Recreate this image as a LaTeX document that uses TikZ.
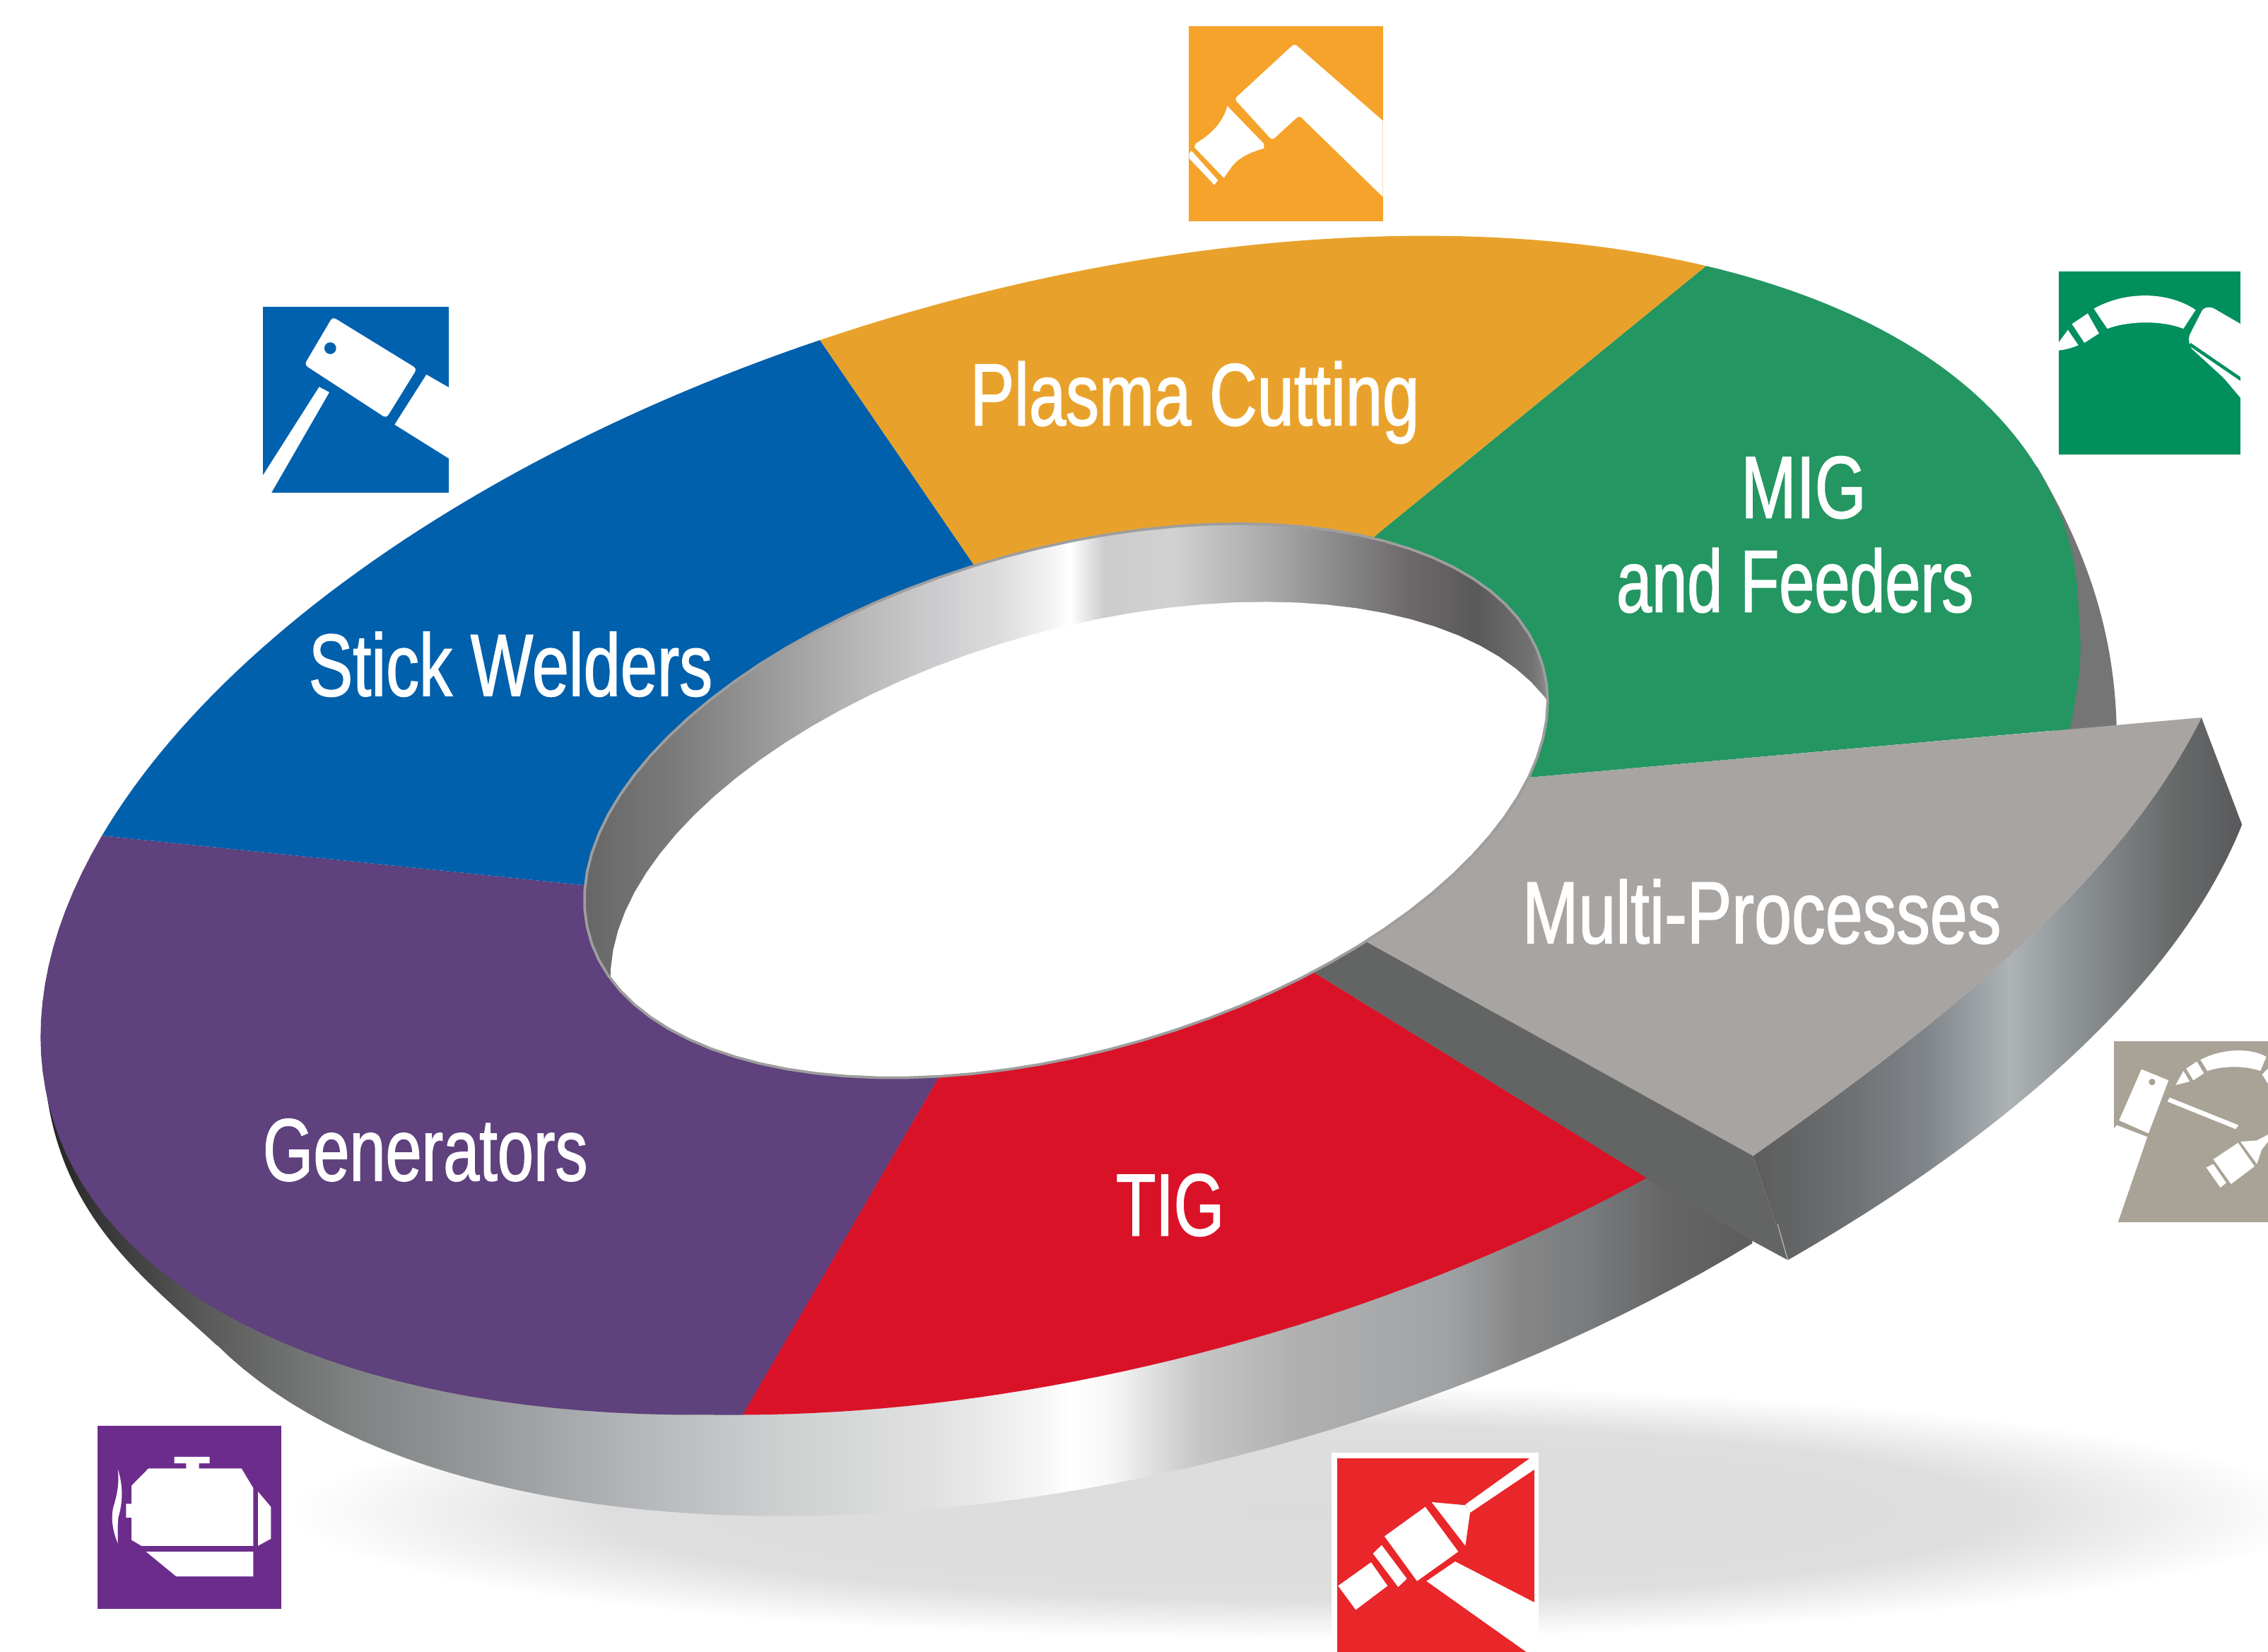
\documentclass[tikz,border=0pt]{standalone}
\usepackage{fontspec}
\setmainfont[FakeStretch=0.75,FakeBold=1.2]{Liberation Sans}
\newfontfamily\narrowa[FakeStretch=0.72,FakeBold=1.2]{Liberation Sans}
\newfontfamily\narrowb[FakeStretch=0.735,FakeBold=1.2]{Liberation Sans}
\newfontfamily\widera[FakeStretch=0.762,FakeBold=1.2]{Liberation Sans}
\definecolor{cblue}{HTML}{0060AC}
\definecolor{cgold}{HTML}{E8A22C}
\definecolor{cgreen}{HTML}{239661}
\definecolor{cpurple}{HTML}{5E417D}
\definecolor{cred}{HTML}{DA1228}
\definecolor{cgrey}{HTML}{A7A4A2}
\definecolor{ccside}{HTML}{636464}
\definecolor{iorange}{HTML}{F5A32B}
\definecolor{igreen}{HTML}{008F5D}
\definecolor{iblue}{HTML}{0061AF}
\definecolor{itaupe}{HTML}{A9A296}
\definecolor{ipurple}{HTML}{6C2C8C}
\definecolor{ired}{HTML}{E9262A}
\pgfdeclarehorizontalshading{wallmetal}{100bp}{rgb(0bp)=(.13,.13,.13);rgb(25bp)=(.13,.13,.13);rgb(26.4bp)=(.2,.2,.2);rgb(28.1bp)=(.27,.27,.27);rgb(29.8bp)=(.35,.35,.35);rgb(34.1bp)=(.5,.51,.51);rgb(38.3bp)=(.6,.61,.62);rgb(42.6bp)=(.71,.72,.73);rgb(46.8bp)=(.81,.82,.82);rgb(51.1bp)=(.88,.88,.88);rgb(54.1bp)=(.96,.96,.96);rgb(55.1bp)=(1,1,1);rgb(56.2bp)=(.97,.97,.97);rgb(58.7bp)=(.78,.78,.78);rgb(61.7bp)=(.69,.69,.69);rgb(66bp)=(.63,.64,.65);rgb(68.1bp)=(.53,.53,.53);rgb(70.2bp)=(.47,.48,.49);rgb(72.4bp)=(.4,.4,.4);rgb(75bp)=(.36,.36,.36);rgb(100bp)=(.36,.36,.36)}
\pgfdeclarehorizontalshading{holemetal}{100bp}{rgb(0bp)=(.4,.4,.4);rgb(25bp)=(.4,.4,.4);rgb(29.2bp)=(.47,.47,.47);rgb(34.5bp)=(.6,.6,.6);rgb(39.7bp)=(.73,.73,.73);rgb(43.2bp)=(.8,.8,.81);rgb(46.8bp)=(.87,.87,.87);rgb(49.1bp)=(.95,.95,.95);rgb(50.2bp)=(1,1,1);rgb(52bp)=(.8,.8,.8);rgb(55.5bp)=(.82,.82,.82);rgb(60.7bp)=(.66,.66,.66);rgb(64.3bp)=(.53,.53,.53);rgb(67.8bp)=(.43,.41,.42);rgb(71.3bp)=(.35,.35,.35);rgb(74.2bp)=(.45,.45,.45);rgb(75bp)=(.55,.55,.55);rgb(100bp)=(.55,.55,.55)}
\pgfdeclarehorizontalshading{wedgemetal}{100bp}{rgb(0bp)=(.36,.36,.36);rgb(25bp)=(.36,.36,.36);rgb(33.6bp)=(.42,.43,.44);rgb(42.5bp)=(.5,.52,.54);rgb(51.3bp)=(.68,.7,.71);rgb(58.7bp)=(.54,.56,.57);rgb(67.6bp)=(.41,.42,.42);rgb(75bp)=(.35,.35,.36);rgb(100bp)=(.35,.35,.36)}
\pgfdeclareradialshading{floorshadow}{\pgfpoint{0bp}{0bp}}{rgb(0bp)=(.86,.86,.86);rgb(17bp)=(.87,.87,.87);rgb(25bp)=(1,1,1);rgb(50bp)=(1,1,1)}
\newcommand\ringouter[2]{plot[domain=#1:#2,samples=50,variable=\t]({732.5+704.5*cos(\t)},{570.5-407.5*cos(\t-69)})}
\newcommand\ringred[2]{plot[domain=#1:#2,samples=40,variable=\t]({762.5+704.5*cos(\t)},{570.5-407.5*cos(\t-69)})}
\newcommand\ringinner[2]{plot[domain=#1:#2,samples=90,variable=\t]({737+333*cos(\t)},{553.5-191.5*cos(\t-69)})}
\newcommand\ringhole[2]{plot[domain=#1:#2,samples=90,variable=\t]({755+333*cos(\t)},{607.5-191.5*cos(\t-69)})}
\tikzset{
  facefill/.style={fill=#1,draw=none},
  wlabel/.style={text=white,anchor=base,inner sep=0pt,font=\fontsize{30}{30}\selectfont},
  iconbg/.style={fill=#1,draw=none},
  iconwhite/.style={fill=white,draw=none},
}
\begin{document}
\begin{tikzpicture}[x=0.4912pt,y=-0.4912pt]
\useasboundingbox (0,0) rectangle (1568,1141.9);
\fill[white] (0,0) rectangle (1568,1141.9);
% floor shadow
\shade[shading=floorshadow] (900,1045) ellipse [x radius=700,y radius=88];
% top-right piece of outer wall
\fill[fill=black!54] (1408,322) .. controls (1445,385) and (1462,440) .. (1463.4,505) -- (1420,510) -- (1420,400) -- cycle;
% outer wall
\begin{scope}
\clip (31,745) .. controls (40,840) and (98,882) .. (150,930) -- plot[domain=204.2:306.5,samples=60,variable=\t]({792.5+704.5*cos(\t)},{640.5-407.5*cos(\t-69)}) -- (1212,700) -- (300,700) -- cycle;
\shade[shading=wallmetal] (28,680) rectangle (1212,1060);
\end{scope}
% coloured faces
\fill[facefill=cpurple] \ringouter{160}{249.5} -- (513.6,978) -- (650,743) -- (737,553) -- (405,612) -- cycle;
\fill[facefill=cblue] \ringouter{160}{103.6} -- (673,390) -- (737,553) -- (405,612) -- cycle;
\fill[facefill=cgold] \ringouter{103.6}{50.6} -- (955,367) -- (737,553) -- (673,390) -- cycle;
\fill[facefill=cgreen] \ringouter{50.6}{0} .. controls (1440,450) and (1438,470) .. (1431,504) -- (1062,537) -- (737,553) -- (955,367) -- cycle;
\fill[facefill=cred] \ringred{249.3}{302.7} -- (1143,817) -- (905,670) -- (737,553) -- (650,743) -- cycle;
% wedge wall
\begin{scope}
\clip (1522,496) -- (1550,570) .. controls (1500,695) and (1360,800) .. (1236,871) -- (1212,799) .. controls (1345,705) and (1465,610) .. (1522,496) -- cycle;
\shade[shading=wedgemetal] (1212,480) rectangle (1550,880);
\end{scope}
% wedge side
\fill[facefill=ccside] (905,670) -- (943,650) -- (1212,799) -- (1236,871) -- (1212,858) -- (1143,817) -- cycle;
\draw[white,opacity=.5,line width=.3pt] (1229,846) -- (1236,871);
% wedge face
\fill[facefill=cgrey] (1062,537) -- (1522,496) .. controls (1465,610) and (1345,705) .. (1212,799) -- (943,650) -- (737,553) -- cycle;
% hole: shaded inner wall, then the opening seen through it
\begin{scope}
\clip \ringinner{0}{360} -- cycle;
\shade[shading=holemetal] (404,350) rectangle (1070,760);
\fill[white] \ringhole{0}{360} -- cycle;
\end{scope}
\draw[black!38,line width=.9pt] \ringinner{0}{360} -- cycle;
% labels
\node[wlabel] (plasma) at (826,294) {Plasma Cutting};
\node[wlabel] (mig) at (1247,358) {MIG};
\node[wlabel] (feeders) at (1241,423) {\narrowa and Feeders};
\node[wlabel] (stick) at (353,481) {Stick Welders};
\node[wlabel] (multi) at (1218,652) {\widera Multi-Processes};
\node[wlabel] (gens) at (294,816) {\narrowb Generators};
\node[wlabel] (tig) at (809,854) {\narrowb TIG};
% orange icon
\begin{scope}[shift={(801.3,9.77)},scale=.1629]
\fill[iconbg=iorange] (125,52) rectangle (950,880);
\begin{scope}
\clip (125,52) rectangle (950,880);
\fill[iconwhite,rounded corners=1pt] (320,360) -- (575,125) -- (970,470) -- (970,795) -- (595,430) -- (480,535) -- cycle;
\fill[iconwhite] (290,390) .. controls (265,480) and (200,520) .. (155,550) -- (150,565) -- (275,695) -- (300,660) .. controls (330,610) and (390,585) .. (445,570) -- (445,550) -- cycle;
\fill[iconwhite] (128,590) -- (138,580) -- (250,705) -- (235,725) -- (128,612) -- cycle;
\end{scope}
\end{scope}
% green icon
\begin{scope}[shift={(1407.2,175.9)},scale=.1629]
\fill[iconbg=igreen] (98,72) rectangle (870,848);
\begin{scope}
\clip (98,72) rectangle (870,848);
\fill[iconwhite] (248,230) .. controls (380,155) and (560,155) .. (680,235) -- (628,315) .. controls (540,280) and (400,280) .. (305,315) -- cycle;
\fill[iconwhite] (155,295) -- (222,250) -- (270,335) -- (208,375) -- cycle;
\fill[iconwhite] (90,385) -- (138,320) -- (182,385) .. controls (150,398) and (125,405) .. (90,408) -- cycle;
\fill[iconwhite,rounded corners=1pt] (650,350) -- (712,228) -- (745,222) -- (880,300) -- (880,620) -- (800,525) -- (655,392) -- cycle;
\draw[igreen,line width=1.1pt] (655,381) -- (880,535);
\end{scope}
\end{scope}
% blue icon
\begin{scope}[shift={(166.1,200.3)},scale=.1629]
\fill[iconbg=iblue] (95,72) rectangle (885,860);
\begin{scope}
\clip (95,72) rectangle (885,860);
\fill[iconwhite,rounded corners=1.2pt] (392,115) -- (750,335) -- (620,545) -- (272,318) -- cycle;
\fill[iblue] (382,248) circle [radius=25];
\fill[iconwhite] (790,360) -- (895,420) -- (895,722) -- (655,572) -- cycle;
\fill[iconwhite] (335,412) -- (378,435) -- (130,865) -- (85,865) -- (85,805) -- cycle;
\end{scope}
\end{scope}
% taupe icon
\begin{scope}[shift={(1446.3,703.6)},scale=.1629]
\fill[iconbg=itaupe] (92,98) rectangle (760,868);
\fill[iconwhite] (210,218) -- (325,265) -- (240,490) -- (115,435) -- cycle;
\fill[itaupe] (255,272) circle [radius=14];
\fill[iconwhite] (105,455) -- (235,505) -- (110,868) -- (85,868) -- (85,480) -- cycle;
\fill[iconwhite] (330,338) -- (622,455) -- (610,472) -- (320,355) -- cycle;
\fill[iconwhite] (460,178) .. controls (550,130) and (670,125) .. (740,165) -- (715,225) .. controls (640,200) and (550,205) .. (490,225) -- cycle;
\fill[iconwhite] (400,215) -- (445,185) -- (475,235) -- (430,265) -- cycle;
\fill[iconwhite] (388,225) -- (415,270) -- (355,285) -- cycle;
\fill[iconwhite] (722,240) -- (747,215) -- (747,280) -- cycle;
\fill[iconwhite] (515,600) -- (620,530) -- (690,630) -- (590,705) -- cycle;
\fill[iconwhite] (485,635) -- (515,620) -- (570,700) -- (545,720) -- cycle;
\fill[iconwhite] (630,525) -- (700,520) -- (747,495) -- (747,525) -- (720,560) -- (700,620) -- cycle;
\end{scope}
% purple icon
\begin{scope}[shift={(53.75,972.4)},scale=.1629]
\fill[iconbg=ipurple] (85,80) rectangle (865,858);
\fill[iconwhite] (410,212) -- (560,212) -- (560,240) -- (515,240) -- (515,262) -- (695,262) -- (745,345) -- (745,590) -- (270,590) -- (228,565) -- (228,470) -- (205,470) -- (205,412) -- (228,412) -- (228,335) -- (300,262) -- (460,262) -- (460,240) -- (410,240) -- cycle;
\fill[iconwhite] (290,615) -- (745,615) -- (745,720) -- (418,720) -- cycle;
\fill[iconwhite] (765,360) -- (820,425) -- (820,560) -- (765,590) -- cycle;
\fill[iconwhite] (170,265) .. controls (195,340) and (190,410) .. (172,470) .. controls (168,510) and (170,550) .. (170,580) .. controls (150,530) and (140,480) .. (150,430) .. controls (165,380) and (178,330) .. (170,265) -- cycle;
\end{scope}
% red icon
\begin{scope}[shift={(908.8,991.9)},scale=.1629]
\fill[white] (72,75) rectangle (950,921);
\fill[iconbg=ired] (95,98) rectangle (932,921);
\begin{scope}
\clip (72,75) rectangle (950,921);
\fill[iconwhite] (915,98) -- (950,98) -- (950,135) -- (660,330) -- (640,295) -- cycle;
\fill[iconwhite] (497,285) -- (640,298) -- (660,330) -- (640,470) -- cycle;
\fill[iconwhite] (470,305) -- (610,495) -- (435,620) -- (297,430) -- cycle;
\fill[iconwhite] (285,467) -- (392,610) -- (355,645) -- (248,503) -- cycle;
\fill[iconwhite] (240,540) -- (310,640) -- (175,742) -- (100,640) -- cycle;
\fill[iconwhite] (597,537) -- (932,710) -- (950,710) -- (950,925) -- (905,925) -- (475,620) -- cycle;
\end{scope}
\end{scope}
\end{tikzpicture}
\end{document}
